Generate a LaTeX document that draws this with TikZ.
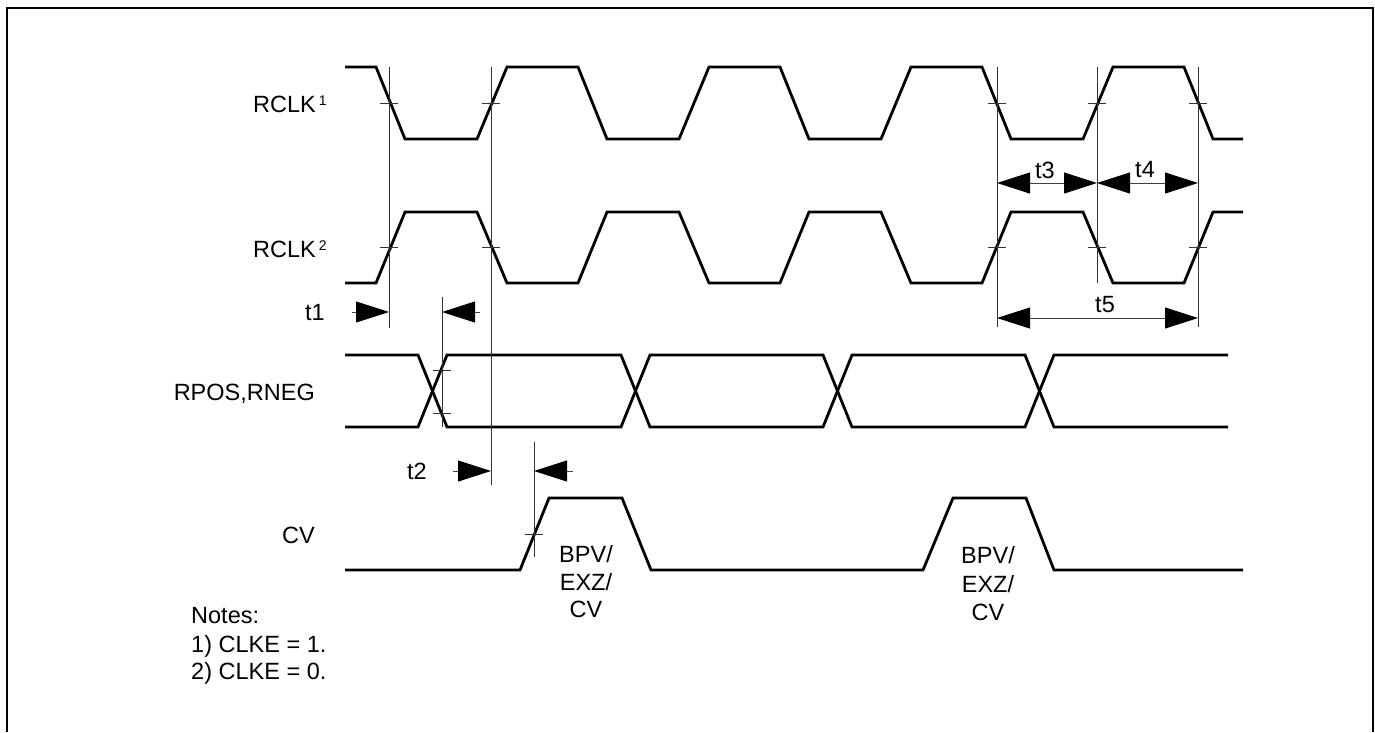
\documentclass[tikz,border=0pt]{standalone}
\usepackage{fontspec}
\setmainfont{Liberation Sans}
\usetikzlibrary{arrows.meta}
\newcommand{\supr}[1]{\hspace{3pt}\raisebox{6.5pt}{\fontsize{14}{14}\selectfont #1}}
\begin{document}
\begin{tikzpicture}[x=1pt,y=-1pt,
  wave/.style={line width=2.8pt, line join=miter},
  guide/.style={line width=1pt, black!80},
  tick/.style={line width=1pt, black!80},
  dim/.style={line width=1pt, black!75, -{Triangle[length=33pt,width=21pt,color=black]}},
  dimboth/.style={line width=1pt, black!75, {Triangle[length=33pt,width=21pt,color=black]}-{Triangle[length=33pt,width=21pt,color=black]}},
  lbl/.style={font=\fontsize{23.5}{28}\selectfont, inner sep=0pt}]
\useasboundingbox (0,0) rectangle (1375,732);
% frame
\draw[line width=2.2pt] (7,732) -- (7,8) -- (1373,8) -- (1373,732);

% RCLK1
\draw[wave] (345,67) -- (376,67) -- (405,139) -- (477,139) -- (507,67) -- (578,67) -- (607,139) -- (679,139) -- (709,67) -- (780,67) -- (809,139) -- (881,139) -- (911,67) -- (982,67) -- (1011,139) -- (1083,139) -- (1113,67) -- (1184,67) -- (1213,139) -- (1243,139);
% RCLK2
\draw[wave] (345,283) -- (376,283) -- (405,212) -- (477,212) -- (507,283) -- (578,283) -- (607,212) -- (679,212) -- (709,283) -- (780,283) -- (809,212) -- (881,212) -- (911,283) -- (982,283) -- (1011,212) -- (1083,212) -- (1113,283) -- (1184,283) -- (1213,212) -- (1243,212);
% RPOS,RNEG
\draw[wave] (345,355) -- (418,355) -- (447,427) -- (621,427) -- (650,355) -- (823,355) -- (852,427) -- (1025,427) -- (1054,355) -- (1228,355);
\draw[wave] (345,427) -- (418,427) -- (447,355) -- (621,355) -- (650,427) -- (823,427) -- (852,355) -- (1025,355) -- (1054,427) -- (1228,427);
% CV
\draw[wave] (345,570) -- (520,570) -- (549,498) -- (622,498) -- (651,570) -- (923,570) -- (953,498) -- (1026,498) -- (1054,570) -- (1243,570);

% guide line end points
\coordinate (g1t) at (389,67);  \coordinate (g1b) at (389,328);
\coordinate (g2t) at (491,67);  \coordinate (g2b) at (491,485);
\coordinate (g3t) at (442,297); \coordinate (g3b) at (442,427);
\coordinate (g4t) at (534,442); \coordinate (g4b) at (534,557);
\coordinate (g5t) at (997,67);  \coordinate (g5b) at (997,327);
\coordinate (g6t) at (1097,67); \coordinate (g6b) at (1097,283);
\coordinate (g7t) at (1198,67); \coordinate (g7b) at (1198,327);
\foreach \a in {1,...,7} {\draw[guide] (g\a t) -- (g\a b);}

% ticks
\foreach \x/\y in {389/103,491/103,997/103,1097/103,1198/103,389/247,491/247,997/247,1097/247,1198/247,442/370,442/413,534/534}
  {\draw[tick] (\x-9,\y) -- (\x+9,\y);}

% dimension arrows
\coordinate (t1a) at (352,312); \coordinate (t1b) at (389,312);
\coordinate (t1c) at (480,312); \coordinate (t1d) at (442,312);
\draw[dim] (t1a) -- (t1b);
\draw[dim] (t1c) -- (t1d);
\coordinate (t2a) at (453,471); \coordinate (t2b) at (491,471);
\coordinate (t2c) at (573,471); \coordinate (t2d) at (534,471);
\draw[dim] (t2a) -- (t2b);
\draw[dim] (t2c) -- (t2d);
\coordinate (t3a) at (997,183); \coordinate (t3b) at (1097,183);
\coordinate (t4b) at (1198,183);
\draw[dimboth] (t3a) -- (t3b);
\draw[dimboth] (t3b) -- (t4b);
\coordinate (t5a) at (997,318); \coordinate (t5b) at (1198,318);
\draw[dimboth] (t5a) -- (t5b);

% labels
\node[lbl, anchor=base west] (lrclk1) at (253,112) {RCLK\supr{1}};
\node[lbl, anchor=base west] (lrclk2) at (253,257) {RCLK\supr{2}};
\node[lbl, anchor=base east] (lrpos) at (315,400) {RPOS,RNEG};
\node[lbl, anchor=base east] (lcv) at (315,543) {CV};
\node[lbl] (lt1) at (315,312) {t1};
\node[lbl] (lt2) at (417,471) {t2};
\node[lbl] (lt3) at (1045,170) {t3};
\node[lbl] (lt4) at (1145,170) {t4};
\node[lbl] (lt5) at (1105,305) {t5};

\node[lbl, anchor=base] (b1a) at (586,562) {BPV/};
\node[lbl, anchor=base] (b1b) at (586,590) {EXZ/};
\node[lbl, anchor=base] (b1c) at (586,617) {CV};
\node[lbl, anchor=base] (b2a) at (988,563) {BPV/};
\node[lbl, anchor=base] (b2b) at (988,592) {EXZ/};
\node[lbl, anchor=base] (b2c) at (988,620) {CV};

\node[lbl, anchor=base west] (n0) at (191,623) {Notes:};
\node[lbl, anchor=base west] (n1) at (191,652) {1) CLKE = 1.};
\node[lbl, anchor=base west] (n2) at (191,679) {2) CLKE = 0.};
\end{tikzpicture}
\end{document}
